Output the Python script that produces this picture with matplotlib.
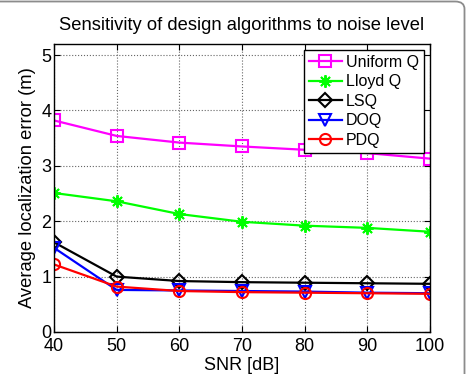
import matplotlib
matplotlib.use("Agg")
import matplotlib.pyplot as plt
from matplotlib.patches import FancyBboxPatch

plt.rcParams['font.family'] = ['Liberation Sans', 'DejaVu Sans']

snr = [40, 50, 60, 70, 80, 90, 100]
uniform_q = [3.82, 3.54, 3.42, 3.35, 3.29, 3.23, 3.13]
lloyd_q = [2.51, 2.36, 2.13, 1.99, 1.92, 1.88, 1.81]
lsq = [1.62, 1.00, 0.92, 0.90, 0.89, 0.88, 0.87]
doq = [1.52, 0.76, 0.75, 0.74, 0.73, 0.71, 0.70]
pdq = [1.22, 0.82, 0.74, 0.72, 0.71, 0.70, 0.69]

fig = plt.figure(figsize=(4.68, 3.74), dpi=100)
ax = fig.add_axes([54/468, 1-332/374, 376/468, 288/374])

# outer rounded frame (only top and right edges visible in the original)
frame = FancyBboxPatch((-0.05, -0.05), 0.05 + 464.5/468, 0.05 + 372.5/374,
                       boxstyle="round,pad=0,rounding_size=0.02",
                       transform=fig.transFigure, fill=False, edgecolor='#8c8c8c', lw=1.3)
fig.patches.append(frame)

kw = dict(lw=1.6, ms=8, mfc='none', mew=1.5)
ax.plot(snr, uniform_q, color='#ff00ff', marker='s', label='Uniform Q', **kw)
ax.plot(snr, lloyd_q, color='#00ff00', marker=(8, 2, 0), label='Lloyd Q', lw=1.6, ms=9, mew=1.4)
ax.plot(snr, lsq, color='black', marker='D', label='LSQ', lw=1.6, ms=7, mfc='none', mew=1.5)
ax.plot(snr, doq, color='#0000ff', marker='v', label='DOQ', **kw)
ax.plot(snr, pdq, color='#ff0000', marker='o', label='PDQ', **kw)

ax.set_xlim(40, 100)
ax.set_ylim(0, 5.2)
ax.set_xticks(snr)
ax.set_yticks([0, 1, 2, 3, 4, 5])
ax.tick_params(direction='in', top=True, right=True, labelsize=13, length=4, pad=2)
ax.tick_params(axis='x', pad=4)
ax.grid(True, linestyle=':', color='#666666', lw=0.8)
for s in ax.spines.values():
    s.set_linewidth(1.0)

ax.set_xlabel('SNR [dB]', fontsize=13, labelpad=2)
ax.set_ylabel('Average localization error (m)', fontsize=13.2, labelpad=4)
ax.set_title('Sensitivity of design algorithms to noise level', fontsize=13.2, pad=10)

leg = ax.legend(loc='upper right', fontsize=11.5, fancybox=False, framealpha=1,
                edgecolor='black', borderpad=0.3, labelspacing=0.28, handlelength=2.1,
                handletextpad=0.25, borderaxespad=0.38)
leg.get_frame().set_linewidth(1.0)

fig.savefig('out.png', dpi=100)
